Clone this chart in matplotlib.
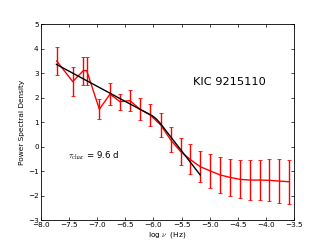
import matplotlib
matplotlib.use("Agg")
import matplotlib.pyplot as plt

plt.rcParams['mathtext.fontset'] = 'cm'
plt.rcParams['font.family'] = ['DejaVu Sans']

# Red binned PSD with error bars
log_nu = [-7.716, -7.432, -7.243, -7.184, -6.959, -6.770, -6.593, -6.415,
          -6.238, -6.060, -5.871, -5.693, -5.516, -5.351, -5.173, -4.996,
          -4.818, -4.641, -4.464, -4.286, -4.109, -3.943, -3.766, -3.589]
psd = [3.49, 2.65, 3.10, 3.10, 1.52, 2.14, 1.83, 1.87,
       1.52, 1.29, 0.88, 0.27, -0.21, -0.52, -0.82, -0.99,
       -1.16, -1.26, -1.34, -1.37, -1.37, -1.38, -1.41, -1.44]
psd_err = [0.56, 0.59, 0.57, 0.57, 0.41, 0.46, 0.32, 0.42,
           0.44, 0.44, 0.48, 0.51, 0.56, 0.61, 0.64, 0.69,
           0.72, 0.75, 0.78, 0.81, 0.83, 0.86, 0.88, 0.90]

# Black model fit
fit_x = [-7.72, -6.24, -6.03, -5.95, -5.88, -5.17]
fit_y = [3.35, 1.52, 1.27, 1.13, 0.95, -1.16]

xticks = [-8.0, -7.5, -7.0, -6.5, -6.0, -5.5, -5.0, -4.5, -4.0, -3.5]
yticks = [-3, -2, -1, 0, 1, 2, 3, 4, 5]

fig = plt.figure(figsize=(3.27, 2.45), dpi=100)
ax = fig.add_axes([0.1245, 0.102, 0.7755, 0.8])

ax.errorbar(log_nu, psd, yerr=psd_err, color='red', lw=1.0, elinewidth=1.0,
            capsize=1.2, capthick=0.6, zorder=2)
ax.plot(fit_x, fit_y, color='black', lw=1.0, zorder=3)

ax.set_xlim(-8.0, -3.5)
ax.set_ylim(-3, 5)
ax.set_xticks(xticks)
ax.set_yticks(yticks)
ax.set_xticklabels([f"{t:.1f}".replace('-', '\u2212') for t in xticks])
ax.set_yticklabels([f"{t}".replace('-', '\u2212') for t in yticks])
ax.tick_params(direction='in', top=True, right=True, length=2.0, width=0.5,
               labelsize=5.2, pad=1.5)
for s in ax.spines.values():
    s.set_linewidth(0.6)

ax.set_xlabel(r'log $\nu$  (Hz)', fontsize=5.3, labelpad=1.5)
ax.set_ylabel('Power Spectral Density', fontsize=5.3, labelpad=2)

ax.text(-4.65, 2.65, 'KIC 9215110', fontsize=8.2, ha='center', va='center')
ax.text(-7.51, -0.39, r'$\tau_{\rm char}$ = 9.6 d', fontsize=6.2, ha='left', va='center')

fig.savefig('out.png', dpi=100)
